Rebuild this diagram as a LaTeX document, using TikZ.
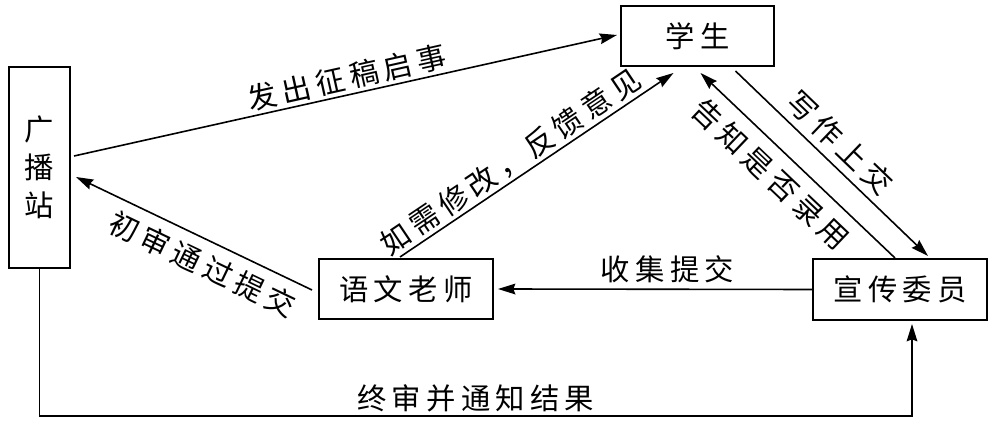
\documentclass[tikz,border=0pt]{standalone}
\usepackage{fontspec}
\setmainfont{Noto Sans CJK SC}[LetterSpace=18]
\usetikzlibrary{arrows.meta,calc}

\begin{document}
\begin{tikzpicture}[x=0.75pt,y=-0.75pt,
  box/.style={draw,line width=1.5pt,inner sep=0pt,font=\fontsize{22}{28.5}\selectfont},
  arr/.style={line width=1.2pt,-{Stealth[length=13pt,width=8pt,inset=1.5pt]}},
  lab/.style={font=\fontsize{22}{26}\selectfont,inner sep=2pt,sloped}]
\useasboundingbox (0,0) rectangle (997,423);
\node[box,minimum width=114.75pt,minimum height=45pt] (xs) at (697.5,36) {学生};
\node[box,minimum width=45.75pt,minimum height=150.75pt,align=center] (gbz) at (39.5,167.5) {广\\播\\站};
\node[box,minimum width=130.5pt,minimum height=45pt] (yw) at (406,289) {语文老师};
\node[box,minimum width=130.5pt,minimum height=45.75pt] (xc) at (900,289.5) {宣传委员};
\coordinate (xcb) at ($(xc.south)+(12,3)$);

\draw[arr] ($(gbz.east)+(3,-11.5)$) -- node[lab,above,pos=0.51]{发出征稿启事} ($(xs.west)+(-3,-1)$);
\draw[arr] ($(yw.north)+(-6,-1)$) -- node[lab,above,pos=0.44]{如需修改，反馈意见} ($(xs.south)+(-24,6)$);
\draw[arr] ($(xs.south)+(38,4)$) -- node[lab,above=3pt,pos=0.47]{写作上交} ($(xc.north)+(28,-2)$);
\draw[arr] ($(xc.north)+(-5,0)$) -- node[lab,below=6pt,pos=0.55]{告知是否录用} ($(xs.south)+(3,6)$);
\draw[arr] (xc.west) -- node[lab,above=2pt,pos=0.46]{收集提交} ($(yw.east)+(4,0)$);
\draw[arr] ($(yw.west)+(-6,1)$) -- node[lab,below=5pt,pos=0.42]{初审通过提交} ($(gbz.east)+(5,9.5)$);
\draw[arr] (gbz.south) -- ++(0,147) -| node[lab,above,pos=0.25]{终审并通知结果} (xcb);
\end{tikzpicture}
\end{document}
